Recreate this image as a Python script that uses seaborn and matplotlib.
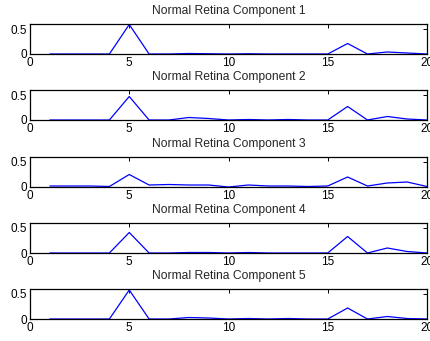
import numpy as np
import pandas as pd
import matplotlib
matplotlib.use("Agg")
import matplotlib.pyplot as plt
import seaborn as sns

# Component index along the horizontal axis
positions = list(range(1, 21))

component_1 = [0, 0, 0, 0, 0.59, 0, 0, 0.01, 0.005, 0, 0.005, 0, 0, 0, 0, 0.21, 0, 0.04, 0.02, 0]
component_2 = [0, 0, 0, 0, 0.47, 0, 0, 0.05, 0.03, 0, 0.01, 0, 0.01, 0, 0, 0.27, 0, 0.07, 0.02, 0]
component_3 = [0.02, 0.02, 0.02, 0.01, 0.25, 0.04, 0.05, 0.04, 0.04, 0, 0.04, 0.02, 0.02, 0.01, 0.02, 0.2, 0.02, 0.08, 0.1, 0.01]
component_4 = [0, 0, 0, 0, 0.41, 0, 0, 0.01, 0.01, 0, 0.01, 0, 0, 0, 0, 0.33, 0, 0.1, 0.03, 0]
component_5 = [0, 0, 0, 0, 0.58, 0, 0, 0.03, 0.02, 0, 0.01, 0, 0.01, 0, 0, 0.22, 0, 0.05, 0.01, 0]

components = [component_1, component_2, component_3, component_4, component_5]
titles = [f"Normal Retina Component {i}" for i in range(1, 6)]

x_ticks = [0, 5, 10, 15, 20]
y_ticks = [0, 0.5]

sns.set_style("white")
plt.rcParams["font.family"] = ["Liberation Sans", "DejaVu Sans"]

W, H = 430, 341
fig = plt.figure(figsize=(W / 100, H / 100), dpi=100)

left_px, right_px = 30, 427
bottoms_px = [54, 120, 187, 253, 319]
height_px = 30

for values, title, b in zip(components, titles, bottoms_px):
    ax = fig.add_axes([left_px / W, 1 - b / H, (right_px - left_px) / W, height_px / H])
    df = pd.DataFrame({"x": positions, "y": values})
    sns.lineplot(data=df, x="x", y="y", ax=ax, color="#0000ff", linewidth=0.9)
    ax.set_xlim(0, 20)
    ax.set_ylim(0, 0.6)
    ax.set_xticks(x_ticks)
    ax.set_yticks(y_ticks)
    ax.set_xticklabels([str(t) for t in x_ticks])
    ax.set_yticklabels(["0", "0.5"])
    ax.set_xlabel("")
    ax.set_ylabel("")
    ax.tick_params(direction="in", length=3, width=0.7, top=True, right=True,
                   labelsize=8.5, pad=2, colors="black")
    for s in ax.spines.values():
        s.set_visible(True)
        s.set_color("black")
        s.set_linewidth(0.9)
    ax.set_title(title, fontsize=8.7, pad=7.5)

fig.savefig("out.png", dpi=100)
